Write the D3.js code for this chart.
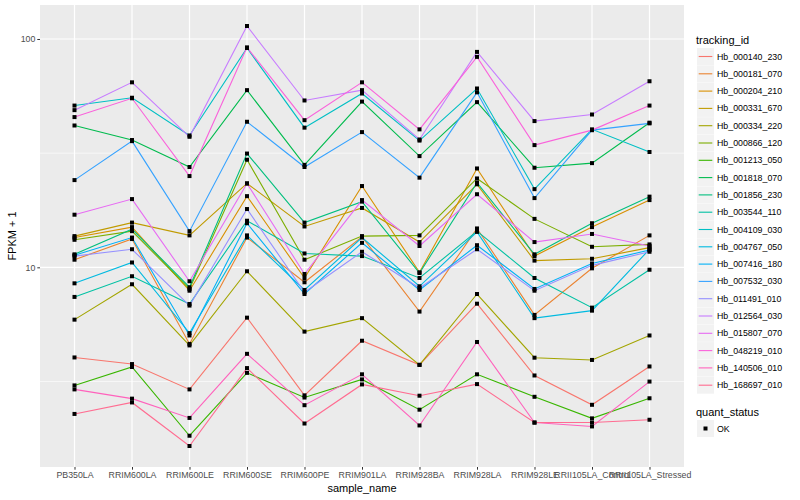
<!DOCTYPE html>
<html>
<head>
<meta charset="utf-8">
<script src="https://cdn.jsdelivr.net/npm/d3@7"></script>
<style>
  body { margin: 0; background: #fff; }
  text { font-family: "Liberation Sans", Arial, sans-serif; }
</style>
</head>
<body>
<div id="chart"></div>
<script>
// samples along the x axis
var samples = ["PB350LA", "RRIM600LA", "RRIM600LE", "RRIM600SE", "RRIM600PE", "RRIM901LA",
    "RRIM928BA", "RRIM928LA", "RRIM928LE", "RRII105LA_Control", "RRII105LA_Stressed"];

var trackingIds = ["Hb_000140_230", "Hb_000181_070", "Hb_000204_210", "Hb_000331_670", "Hb_000334_220",
    "Hb_000866_120", "Hb_001213_050", "Hb_001818_070", "Hb_001856_230", "Hb_003544_110",
    "Hb_004109_030", "Hb_004767_050", "Hb_007416_180", "Hb_007532_030", "Hb_011491_010",
    "Hb_012564_030", "Hb_015807_070", "Hb_048219_010", "Hb_140506_010", "Hb_168697_010"];

// FPKM + 1, one value per sample
var hb_000140_230 = [4.03, 3.77, 2.92, 6.02, 2.75, 4.77, 3.74, 6.93, 3.36, 2.50, 3.68];
var hb_000181_070 = [10.8, 13.3, 4.62, 13.5, 8.60, 13.6, 6.40, 14.8, 6.19, 9.90, 13.8];
var hb_000204_210 = [13.5, 15.0, 7.90, 20.5, 8.98, 22.7, 9.51, 27.1, 11.2, 15.0, 19.7];
var hb_000331_670 = [13.7, 15.7, 13.8, 23.3, 15.1, 18.2, 12.9, 23.1, 10.7, 10.9, 12.2];
var hb_000334_220 = [5.90, 8.43, 4.55, 9.61, 5.23, 5.99, 3.74, 7.64, 4.02, 3.93, 5.03];
var hb_000866_120 = [13.2, 14.4, 8.04, 29.6, 10.8, 13.7, 13.8, 24.5, 16.3, 12.3, 12.6];
var hb_001213_050 = [3.04, 3.66, 1.83, 3.45, 2.69, 3.23, 2.38, 3.40, 2.71, 2.18, 2.67];
var hb_001818_070 = [41.8, 36.1, 27.5, 59.7, 28.1, 53.2, 30.7, 52.9, 27.3, 28.6, 43.0];
var hb_001856_230 = [11.4, 14.7, 8.18, 31.5, 15.7, 19.4, 9.44, 23.5, 11.4, 15.6, 20.4];
var hb_003544_110 = [7.42, 9.14, 6.91, 16.0, 11.5, 11.2, 8.98, 14.4, 8.98, 6.66, 9.76];
var hb_004109_030 = [51.1, 55.3, 37.8, 91.3, 40.9, 57.7, 35.9, 60.7, 22.0, 40.2, 32.0];
var hb_004767_050 = [8.51, 10.5, 5.15, 13.8, 7.96, 13.5, 8.26, 14.3, 5.99, 6.46, 12.0];
var hb_007416_180 = [11.3, 13.5, 5.03, 15.6, 7.64, 12.8, 7.96, 12.5, 8.04, 10.4, 11.9];
var hb_007532_030 = [24.1, 35.7, 14.4, 43.4, 27.5, 39.1, 24.7, 58.4, 20.1, 39.9, 42.7];
var hb_011491_010 = [11.2, 12.0, 6.80, 18.0, 7.78, 11.7, 8.12, 12.0, 7.90, 10.2, 11.7];
var hb_012564_030 = [48.8, 64.6, 37.3, 114, 53.8, 59.7, 36.3, 87.8, 43.7, 46.7, 65.3];
var hb_015807_070 = [17.0, 19.9, 8.69, 23.3, 9.35, 19.7, 12.4, 20.9, 12.9, 14.0, 12.4];
var hb_048219_010 = [45.5, 55.0, 25.1, 91.9, 44.1, 64.6, 40.2, 83.5, 34.3, 39.9, 51.1];
var hb_140506_010 = [2.92, 2.66, 2.19, 4.18, 2.49, 3.40, 2.03, 4.71, 2.09, 2.01, 3.16];
var hb_168697_010 = [2.28, 2.56, 1.65, 3.62, 2.07, 3.07, 2.74, 3.08, 2.09, 2.09, 2.15];

var yTicks = [10, 100];
var quantStatus = ["OK"];

var seriesValues = [hb_000140_230, hb_000181_070, hb_000204_210, hb_000331_670, hb_000334_220,
    hb_000866_120, hb_001213_050, hb_001818_070, hb_001856_230, hb_003544_110,
    hb_004109_030, hb_004767_050, hb_007416_180, hb_007532_030, hb_011491_010,
    hb_012564_030, hb_015807_070, hb_048219_010, hb_140506_010, hb_168697_010];

var series = trackingIds.map(function(id, i) {
    return {id: id, values: seriesValues[i].map(function(v, j) { return {sample: samples[j], value: v}; })};
});

// ggplot default hue palette for 20 levels
var palette = ["#F8766D", "#EA8331", "#D89000", "#C09B00", "#A3A500", "#7CAE00", "#39B600", "#00BB4E",
    "#00BF7D", "#00C1A3", "#00BFC4", "#00BAE0", "#00B0F6", "#35A2FF", "#9590FF", "#C77CFF",
    "#E76BF3", "#FA62DB", "#FF62BC", "#FF6C91"];
var color = d3.scaleOrdinal().domain(trackingIds).range(palette);

var W = 800, H = 500;
var panel = {left: 40, right: 684, top: 5, bottom: 467};

var svg = d3.select("#chart").append("svg")
    .attr("width", W)
    .attr("height", H);

var x = d3.scalePoint()
    .domain(samples)
    .range([panel.left, panel.right])
    .padding(0.6);

// log y with 5% expansion in log space
var all = d3.merge(seriesValues);
var lo = Math.log10(d3.min(all)), hi = Math.log10(d3.max(all));
var pad = (hi - lo) * 0.05;
var y = d3.scaleLog()
    .domain([Math.pow(10, lo - pad), Math.pow(10, hi + pad)])
    .range([panel.bottom, panel.top]);

// panel background + grid
svg.append("rect")
    .attr("x", panel.left).attr("y", panel.top)
    .attr("width", panel.right - panel.left).attr("height", panel.bottom - panel.top)
    .attr("fill", "#EBEBEB");

var minor = [Math.sqrt(10), Math.sqrt(1000)];
svg.append("g").selectAll("line").data(minor).enter().append("line")
    .attr("x1", panel.left).attr("x2", panel.right)
    .attr("y1", function(d) { return y(d); }).attr("y2", function(d) { return y(d); })
    .attr("stroke", "#fff").attr("stroke-width", 0.6);

svg.append("g").selectAll("line").data(yTicks).enter().append("line")
    .attr("x1", panel.left).attr("x2", panel.right)
    .attr("y1", function(d) { return y(d); }).attr("y2", function(d) { return y(d); })
    .attr("stroke", "#fff").attr("stroke-width", 1.2);

svg.append("g").selectAll("line").data(samples).enter().append("line")
    .attr("x1", function(d) { return x(d); }).attr("x2", function(d) { return x(d); })
    .attr("y1", panel.top).attr("y2", panel.bottom)
    .attr("stroke", "#fff").attr("stroke-width", 1.2);

// lines
var line = d3.line()
    .x(function(d) { return x(d.sample); })
    .y(function(d) { return y(d.value); });

svg.append("g").selectAll("path").data(series).enter().append("path")
    .attr("d", function(d) { return line(d.values); })
    .attr("fill", "none")
    .attr("stroke", function(d) { return color(d.id); })
    .attr("stroke-width", 1.1);

// points (quant_status)
var ps = 4;
svg.append("g").selectAll("g").data(series).enter().append("g")
    .selectAll("rect").data(function(d) { return d.values; }).enter().append("rect")
    .attr("x", function(d) { return x(d.sample) - ps / 2; })
    .attr("y", function(d) { return y(d.value) - ps / 2; })
    .attr("width", ps).attr("height", ps)
    .attr("fill", "#000");

// axes
var xAxis = svg.append("g")
    .attr("transform", "translate(0," + panel.bottom + ")")
    .call(d3.axisBottom(x).tickSize(2.7).tickPadding(2));
var yAxis = svg.append("g")
    .attr("transform", "translate(" + panel.left + ",0)")
    .call(d3.axisLeft(y).tickValues(yTicks).tickFormat(d3.format("d")).tickSize(2.7).tickPadding(2));

[xAxis, yAxis].forEach(function(a) {
    a.select(".domain").remove();
    a.selectAll(".tick line").attr("stroke", "#333333").attr("stroke-width", 1);
    a.selectAll(".tick text").attr("fill", "#4D4D4D").style("font-size", "8.8px")
        .style("font-family", "Liberation Sans, Arial, sans-serif");
});

// axis titles
svg.append("text")
    .attr("x", (panel.left + panel.right) / 2).attr("y", 492)
    .attr("text-anchor", "middle")
    .style("font-size", "11px")
    .text("sample_name");

svg.append("text")
    .attr("transform", "translate(16," + ((panel.top + panel.bottom) / 2) + ") rotate(-90)")
    .attr("text-anchor", "middle")
    .style("font-size", "11px")
    .text("FPKM + 1");

// legend: tracking_id
var lx = 697, ly = 48, step = 17.3;
var legend = svg.append("g");
legend.append("text")
    .attr("x", lx - 1).attr("y", ly - 4)
    .style("font-size", "11px")
    .text("tracking_id");

var items = legend.selectAll("g.item").data(trackingIds).enter().append("g")
    .attr("class", "item")
    .attr("transform", function(d, i) { return "translate(" + lx + "," + (ly + i * step) + ")"; });
items.append("rect")
    .attr("width", 17).attr("height", 17)
    .attr("fill", "#F2F2F2");
items.append("line")
    .attr("x1", 1.7).attr("x2", 15.3)
    .attr("y1", 8.5).attr("y2", 8.5)
    .attr("stroke", function(d) { return color(d); })
    .attr("stroke-width", 1.1);
items.append("text")
    .attr("x", 20).attr("y", 8.5)
    .attr("dy", "0.35em")
    .style("font-size", "8.8px")
    .text(function(d) { return d; });

// legend: quant_status
var qy = 420;
legend.append("text")
    .attr("x", lx - 1).attr("y", qy - 4)
    .style("font-size", "11px")
    .text("quant_status");
var qi = legend.selectAll("g.q").data(quantStatus).enter().append("g")
    .attr("class", "q")
    .attr("transform", function(d, i) { return "translate(" + lx + "," + (qy + i * step) + ")"; });
qi.append("rect").attr("width", 17).attr("height", 17).attr("fill", "#F2F2F2");
qi.append("rect").attr("x", 8.5 - ps / 2).attr("y", 8.5 - ps / 2).attr("width", ps).attr("height", ps).attr("fill", "#000");
qi.append("text")
    .attr("x", 20).attr("y", 8.5).attr("dy", "0.35em")
    .style("font-size", "8.8px")
    .text(function(d) { return d; });
</script>
</body>
</html>
